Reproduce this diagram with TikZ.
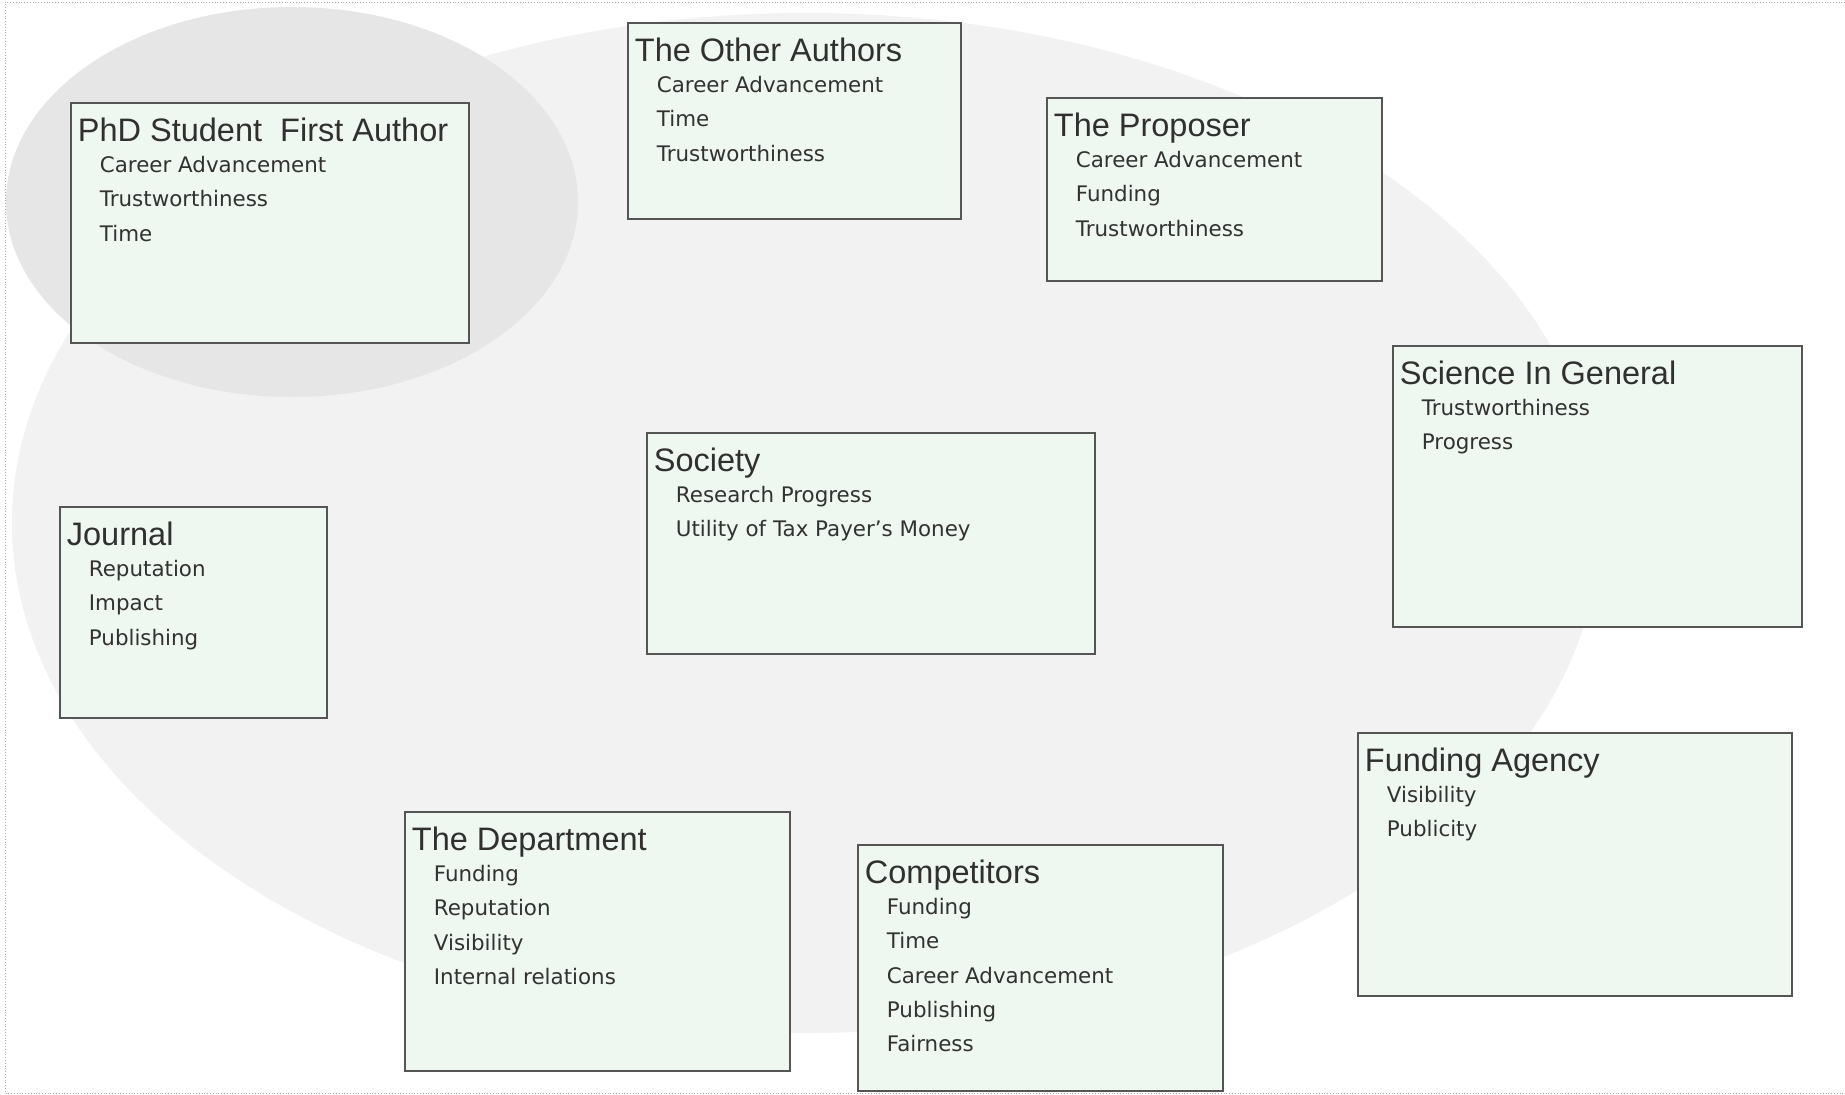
\documentclass[tikz,border=0pt]{standalone}
\usepackage{fontspec}
\setmainfont{Liberation Sans}
\newfontfamily\itemfont{DejaVu Sans}
\usetikzlibrary{fit}
\definecolor{bigell}{RGB}{242,242,242}
\definecolor{smallell}{RGB}{230,230,230}
\definecolor{boxfill}{RGB}{238,247,240}
\definecolor{boxdraw}{RGB}{85,85,85}
\definecolor{ttlcol}{RGB}{48,48,48}
\definecolor{itmcol}{RGB}{50,50,50}
\definecolor{framecol}{RGB}{175,175,175}
\tikzset{
  stakebox/.style={draw=boxdraw, fill=boxfill, line width=2.6pt, inner sep=0pt, rectangle},
  ttl/.style={anchor=base west, inner sep=0pt, text=ttlcol, font=\fontsize{32.5}{37}\selectfont},
  itm/.style={anchor=base west, inner sep=0pt, text=itmcol, font=\itemfont\fontsize{21.4}{25}\selectfont},
  framestyle/.style={draw=framecol, line width=0.8pt, dotted}
}
\newcommand{\stkbox}[7]{%
  \node[stakebox, fit={(#2,#3) (#4,#5)}] (#1) {};
  \node[ttl] (#1-t) at ([xshift=8pt, yshift=-39.5pt]#1.north west) {#6};
  \foreach \t [count=\i] in {#7} {
    \node[itm] (#1-\i) at ([xshift=30pt, yshift={-(36.5+34.3*\i)*1pt}]#1.north west) {\t};
  }%
}
\begin{document}
\begin{tikzpicture}[x=1pt, y=-1pt]
\useasboundingbox (0,0) rectangle (1845,1095);
\fill[white] (0,0) rectangle (1845,1095);
% background groupings
\fill[bigell] (806,523) ellipse [x radius=794pt, y radius=510pt];
\fill[smallell] (292,202) ellipse [x radius=286pt, y radius=195pt];
% frame
\draw[framestyle] (1845,2) -- (5,2) -- (5,1093) -- (1845,1093);
% boxes
\stkbox{phd}{71}{103}{469}{343}{PhD Student\ \ First Author}{Career Advancement,Trustworthiness,Time}
\stkbox{other}{628}{23}{961}{219}{The Other Authors}{Career Advancement,Time,Trustworthiness}
\stkbox{prop}{1047}{98}{1382}{281}{The Proposer}{Career Advancement,Funding,Trustworthiness}
\stkbox{sci}{1393}{346}{1802}{627}{Science In General}{Trustworthiness,Progress}
\stkbox{soc}{647}{433}{1095}{654}{Society}{Research Progress,Utility of Tax Payer’s Money}
\stkbox{jour}{60}{507}{327}{718}{Journal}{Reputation,Impact,Publishing}
\stkbox{fund}{1358}{733}{1792}{996}{Funding Agency}{Visibility,Publicity}
\stkbox{dept}{405}{812}{790}{1071}{The Department}{Funding,Reputation,Visibility,Internal relations}
\stkbox{comp}{858}{845}{1223}{1091}{Competitors}{Funding,Time,Career Advancement,Publishing,Fairness}
\end{tikzpicture}
\end{document}
